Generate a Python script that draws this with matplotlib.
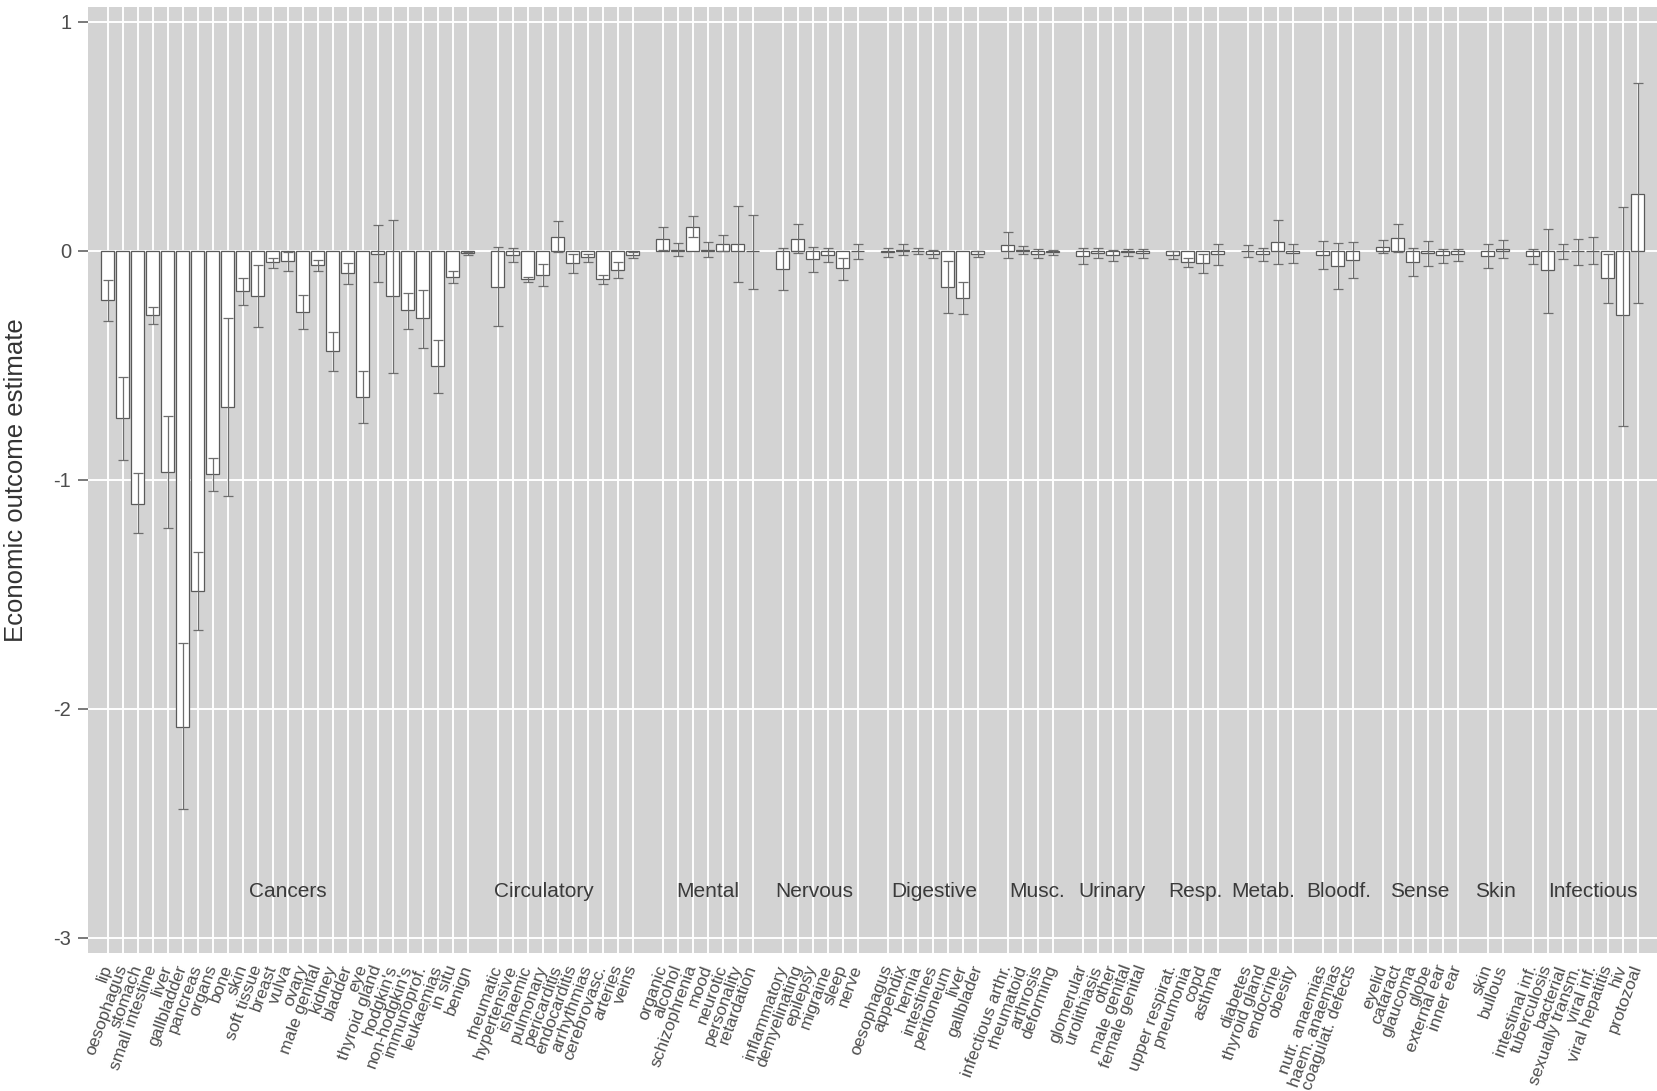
import matplotlib
matplotlib.use("Agg")
import matplotlib.pyplot as plt

# disease groups, in plotting order ------------------------------------------
groups = ["Cancers", "Circulatory", "Mental", "Nervous", "Digestive", "Musc.",
          "Urinary", "Resp.", "Metab.", "Bloodf.", "Sense", "Skin", "Infectious"]
group_sizes = [25, 10, 7, 6, 7, 4, 5, 4, 4, 3, 6, 2, 8]

labels = [
    # Cancers
    "lip", "oesophagus", "stomach", "small intestine", "liver", "gallbladder",
    "pancreas", "organs", "bone", "skin", "soft tissue", "breast", "vulva",
    "ovary", "male genital", "kidney", "bladder", "eye", "thyroid gland",
    "hodgkin's", "non-hodgkin's", "immunoprof.", "leukaemias", "in situ", "benign",
    # Circulatory
    "rheumatic", "hypertensive", "ishaemic", "pulmonary", "pericarditis",
    "endocarditis", "arrhythmias", "cerebrovasc.", "arteries", "veins",
    # Mental
    "organic", "alcohol", "schizophrenia", "mood", "neurotic", "personality",
    "retardation",
    # Nervous
    "inflammatory", "demyelinating", "epilepsy", "migraine", "sleep", "nerve",
    # Digestive
    "oesophagus", "appendix", "hernia", "intestines", "peritoneum", "liver",
    "gallblader",
    # Musc.
    "infectious arthr.", "rheumatoid", "arthrosis", "deforming",
    # Urinary
    "glomerular", "urolithiasis", "other", "male genital", "female genital",
    # Resp.
    "upper respirat.", "pneumonia", "copd", "asthma",
    # Metab.
    "diabetes", "thyroid gland", "endocrine", "obesity",
    # Bloodf.
    "nutr. anaemias", "haem. anaemias", "coagulat. defects",
    # Sense
    "eyelid", "cataract", "glaucoma", "globe", "external ear", "inner ear",
    # Skin
    "skin", "bullous",
    # Infectious
    "intestinal inf.", "tuberculosis", "bacterial", "sexually transm.",
    "viral inf.", "viral hepatitis", "hiv", "protozoal",
]

estimate = [
    -0.214, -0.731, -1.105, -0.280, -0.965, -2.080, -1.485, -0.977, -0.682,
    -0.175, -0.197, -0.051, -0.044, -0.266, -0.061, -0.440, -0.097, -0.640,
    -0.014, -0.200, -0.261, -0.296, -0.504, -0.115, -0.012,
    -0.157, -0.017, -0.124, -0.105, 0.058, -0.054, -0.028, -0.124, -0.083, -0.017,
    0.051, 0.004, 0.103, 0.004, 0.031, 0.029, -0.003,
    -0.078, 0.051, -0.036, -0.017, -0.077, -0.003,
    -0.006, 0.004, 0.000, -0.015, -0.157, -0.205, -0.015,
    0.023, 0.004, -0.013, -0.006,
    -0.022, -0.010, -0.019, -0.007, -0.010,
    -0.017, -0.048, -0.054, -0.015,
    0.000, -0.015, 0.036, -0.010,
    -0.017, -0.065, -0.039,
    0.015, 0.054, -0.048, -0.009, -0.020, -0.016,
    -0.022, 0.007,
    -0.022, -0.086, -0.003, -0.003, 0.000, -0.121, -0.283, 0.249,
]

ci_low = [
    -0.306, -0.916, -1.235, -0.322, -1.210, -2.440, -1.658, -1.050, -1.072,
    -0.236, -0.334, -0.076, -0.090, -0.344, -0.090, -0.526, -0.146, -0.752,
    -0.137, -0.533, -0.342, -0.424, -0.620, -0.142, -0.020,
    -0.331, -0.048, -0.137, -0.153, -0.007, -0.097, -0.048, -0.144, -0.118, -0.033,
    0.001, -0.025, 0.060, -0.028, -0.003, -0.135, -0.169,
    -0.173, -0.012, -0.092, -0.048, -0.126, -0.038,
    -0.028, -0.019, -0.016, -0.032, -0.273, -0.275, -0.029,
    -0.032, -0.016, -0.032, -0.019,
    -0.057, -0.032, -0.047, -0.023, -0.032,
    -0.036, -0.071, -0.096, -0.061,
    -0.029, -0.044, -0.057, -0.054,
    -0.078, -0.167, -0.119,
    -0.010, -0.004, -0.109, -0.068, -0.054, -0.045,
    -0.076, -0.032,
    -0.057, -0.272, -0.036, -0.062, -0.058, -0.228, -0.765, -0.230,
]

ci_high = [
    -0.128, -0.552, -0.972, -0.245, -0.720, -1.714, -1.317, -0.906, -0.296,
    -0.118, -0.064, -0.034, -0.004, -0.192, -0.040, -0.357, -0.054, -0.527,
    0.110, 0.132, -0.183, -0.172, -0.391, -0.089, -0.004,
    0.015, 0.013, -0.115, -0.060, 0.129, -0.015, -0.015, -0.108, -0.051, -0.006,
    0.102, 0.032, 0.150, 0.036, 0.067, 0.196, 0.157,
    0.013, 0.115, 0.015, 0.010, -0.032, 0.028,
    0.010, 0.028, 0.010, 0.001, -0.045, -0.138, -0.003,
    0.081, 0.019, 0.007, 0.004,
    0.010, 0.010, 0.003, 0.007, 0.007,
    -0.003, -0.031, -0.013, 0.028,
    0.026, 0.013, 0.132, 0.031,
    0.041, 0.033, 0.036,
    0.045, 0.118, 0.010, 0.041, 0.006, 0.007,
    0.029, 0.048,
    0.009, 0.096, 0.031, 0.051, 0.058, -0.015, 0.190, 0.731,
]

# where each group label sits, counted in slots from the group's first bar
group_label_at = [12, 3.1, 3, 2.1, 3.1, 2, 2, 1.5, 1.05, 1.06, 2.5, 0.5, 4]

# x positions: one empty slot between groups
xpos, group_start = [], []
slot = 0
for size in group_sizes:
    group_start.append(slot)
    xpos.extend(range(slot, slot + size))
    slot += size + 1

plt.rcParams["font.family"] = ["Liberation Sans", "DejaVu Sans"]

fig = plt.figure(figsize=(16.57, 10.91), dpi=100)
ax = fig.add_axes([88 / 1657, 1 - 953 / 1091, 1 - 88 / 1657, (953 - 7) / 1091])
ax.set_facecolor("#d3d3d3")
for s in ax.spines.values():
    s.set_visible(False)

ax.bar(xpos, estimate, width=0.93, color="white", edgecolor="#5a5a5a",
       linewidth=0.9, zorder=3)
err_lo = [e - lo for e, lo in zip(estimate, ci_low)]
err_hi = [hi - e for e, hi in zip(estimate, ci_high)]
ax.errorbar(xpos, estimate, yerr=[err_lo, err_hi], fmt="none",
            ecolor="#6e6e6e", elinewidth=0.9, capsize=3.4, capthick=0.9,
            zorder=4)

# grid: white lines on grey, one per category (no line for the empty slots)
ax.set_axisbelow(True)
ax.set_xticks(xpos)
ax.set_xticklabels(labels, rotation=70, ha="right", va="center",
                   rotation_mode="anchor", fontsize=12.5, color="#4d4d4d")
ax.tick_params(axis="x", length=0, pad=9)
ax.set_yticks([1, 0, -1, -2, -3])
ax.set_yticklabels(["1", "0", "-1", "-2", "-3"], fontsize=14.5, color="#4d4d4d")
ax.tick_params(axis="y", length=7, width=1.1, color="#555555", pad=5)
ax.grid(True, color="white", linewidth=1.4)

ax.set_xlim(-1.3, 103.3)
ax.set_ylim(-3.067, 1.064)

for name, start, at in zip(groups, group_start, group_label_at):
    ax.text(start + at, -2.8, name, ha="center", va="center",
            fontsize=15, color="#3a3a3a", zorder=5)

ax.set_ylabel("Economic outcome estimate", fontsize=18.5, color="#333333")
ax.yaxis.set_label_coords(-0.038, 0.5)

fig.savefig("out.png", dpi=100)
